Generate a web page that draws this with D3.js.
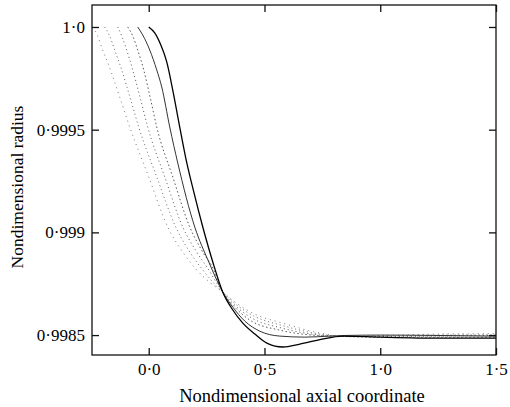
<!DOCTYPE html>
<html>
<head>
    <title>Nondimensional radius profiles</title>
    <script src="https://d3js.org/d3.v7.min.js"></script>
    <style>
        body { margin: 0; background: #fff; }
        text { font-family: "Liberation Serif", "Times New Roman", serif; fill: #000; }
    </style>
</head>
<body>
    <div id="chart"></div>
    <script>
// axis ticks and their printed labels
const xTicks = [0, 0.5, 1.0, 1.5];
const xTickLabels = ['0·0', '0·5', '1·0', '1·5'];
const yTicks = [0.9985, 0.999, 0.9995, 1.0];
const yTickLabels = ['0·9985', '0·999', '0·9995', '1·0'];

// profiles, leftmost (dotted) to rightmost (solid)
const x1 = [-0.2421, -0.2205, -0.1989, -0.1686, -0.1254, -0.0821, 0.0, 0.0821, 0.1470, 0.2075, 0.2681, 0.3199, 0.3848, 0.4583, 0.5793, 0.7393, 0.8474, 0.9987, 1.2581, 1.5];
const y1 = [1.0, 0.999956, 0.999888, 0.999801, 0.999659, 0.999513, 0.999270, 0.999026, 0.998904, 0.998817, 0.998753, 0.998709, 0.998651, 0.998602, 0.998558, 0.998510, 0.998493, 0.998498, 0.998505, 0.998507];

const x2 = [-0.1902, -0.1686, -0.1470, -0.1167, -0.0778, -0.0432, 0.0346, 0.1167, 0.1773, 0.2335, 0.2810, 0.3199, 0.3805, 0.4540, 0.5793, 0.7393, 0.8474, 0.9987, 1.2581, 1.5];
const y2 = [1.0, 0.999956, 0.999888, 0.999791, 0.999645, 0.999513, 0.999270, 0.999026, 0.998904, 0.998817, 0.998753, 0.998709, 0.998646, 0.998593, 0.998546, 0.998505, 0.998493, 0.998495, 0.998500, 0.998502];

const x3 = [-0.1340, -0.1167, -0.0951, -0.0692, -0.0346, -0.0043, 0.0692, 0.1470, 0.2075, 0.2594, 0.2940, 0.3199, 0.3761, 0.4453, 0.5750, 0.7393, 0.8474, 0.9987, 1.2581, 1.5];
const y3 = [1.0, 0.999956, 0.999888, 0.999791, 0.999645, 0.999513, 0.999270, 0.999026, 0.998904, 0.998817, 0.998753, 0.998709, 0.998641, 0.998583, 0.998534, 0.998500, 0.998493, 0.998493, 0.998495, 0.998498];

const x4 = [-0.0908, -0.0692, -0.0476, -0.0216, 0.0086, 0.0346, 0.1038, 0.1773, 0.2335, 0.2810, 0.3026, 0.3199, 0.3718, 0.4367, 0.5664, 0.7307, 0.8474, 0.9987, 1.2581, 1.5];
const y4 = [1.0, 0.999956, 0.999888, 0.999791, 0.999645, 0.999513, 0.999270, 0.999026, 0.998904, 0.998817, 0.998753, 0.998709, 0.998636, 0.998573, 0.998524, 0.998498, 0.998493, 0.998490, 0.998490, 0.998490];

const x5 = [-0.0476, -0.0259, 0.0043, 0.0346, 0.0562, 0.0908, 0.1254, 0.1989, 0.2594, 0.3199, 0.3632, 0.4150, 0.4799, 0.5664, 0.6745, 0.7825, 0.8474, 0.9987, 1.2581, 1.5];
const y5 = [1.0, 0.999961, 0.999888, 0.999791, 0.999708, 0.999513, 0.999338, 0.999026, 0.998856, 0.998709, 0.998636, 0.998568, 0.998519, 0.998495, 0.998490, 0.998495, 0.998498, 0.998500, 0.998498, 0.998495];

const x6 = [0.0, 0.0259, 0.0519, 0.0778, 0.1038, 0.1297, 0.1600, 0.1946, 0.2335, 0.2767, 0.3199, 0.3632, 0.4064, 0.4583, 0.5102, 0.5793, 0.6528, 0.7393, 0.8387, 0.9987, 1.2581, 1.5];
const y6 = [1.0, 0.999971, 0.999913, 0.999830, 0.999693, 0.999538, 0.999362, 0.999197, 0.999026, 0.998856, 0.998709, 0.998622, 0.998558, 0.998505, 0.998461, 0.998442, 0.998456, 0.998478, 0.998495, 0.998490, 0.998485, 0.998485];

const series = [
    { xs: x1, ys: y1, color: '#777', width: 1, dash: '1,4' },
    { xs: x2, ys: y2, color: '#666', width: 1, dash: '1,3' },
    { xs: x3, ys: y3, color: '#555', width: 1, dash: '1,3' },
    { xs: x4, ys: y4, color: '#555', width: 1, dash: '1.5,2.5' },
    { xs: x5, ys: y5, color: '#333', width: 1, dash: null },
    { xs: x6, ys: y6, color: '#000', width: 1.3, dash: null }
];

const width = 510;
const height = 407;
const mLeft = 92, mRight = 496, mTop = 5, mBottom = 355;

const svg = d3.select('#chart')
    .append('svg')
    .attr('width', width)
    .attr('height', height);

const x = d3.scaleLinear().domain([-0.245, 1.5]).range([mLeft, mRight]);
const y = d3.scaleLinear().domain([0.998403, 1.000107]).range([mBottom, mTop]);

const line = d3.line()
    .x(d => x(d[0]))
    .y(d => y(d[1]))
    .curve(d3.curveMonotoneX);

svg.append('g')
    .selectAll('path')
    .data(series)
    .enter()
    .append('path')
    .attr('d', s => line(s.xs.map((v, i) => [v, s.ys[i]])))
    .attr('fill', 'none')
    .attr('stroke', s => s.color)
    .attr('stroke-width', s => s.width)
    .attr('stroke-dasharray', s => s.dash);

// frame
svg.append('rect')
    .attr('x', mLeft)
    .attr('y', mTop)
    .attr('width', mRight - mLeft)
    .attr('height', mBottom - mTop)
    .attr('fill', 'none')
    .attr('stroke', '#111')
    .attr('stroke-width', 1.3);

const tick = 7;

svg.append('g')
    .attr('transform', `translate(0,${mBottom})`)
    .call(d3.axisBottom(x).tickValues(xTicks).tickSize(-tick).tickPadding(8)
        .tickFormat((d, i) => xTickLabels[i]));

svg.append('g')
    .attr('transform', `translate(0,${mTop})`)
    .call(d3.axisTop(x).tickValues(xTicks).tickSize(-tick).tickFormat(''));

svg.append('g')
    .attr('transform', `translate(${mLeft},0)`)
    .call(d3.axisLeft(y).tickValues(yTicks).tickSize(-tick).tickPadding(7)
        .tickFormat((d, i) => yTickLabels[i]));

svg.append('g')
    .attr('transform', `translate(${mRight},0)`)
    .call(d3.axisRight(y).tickValues(yTicks).tickSize(-tick).tickFormat(''));

svg.selectAll('.domain').remove();
svg.selectAll('.tick line').attr('stroke', '#111').attr('stroke-width', 1.3);
svg.selectAll('.tick text')
    .attr('font-family', '"Liberation Serif", "Times New Roman", serif')
    .attr('font-size', 17)
    .attr('fill', '#000');

svg.append('text')
    .attr('x', 302)
    .attr('y', 402)
    .attr('text-anchor', 'middle')
    .attr('font-size', 18.5)
    .text('Nondimensional axial coordinate');

svg.append('text')
    .attr('transform', 'translate(23,187) rotate(-90)')
    .attr('text-anchor', 'middle')
    .attr('font-size', 17.5)
    .text('Nondimensional radius');
    </script>
</body>
</html>
